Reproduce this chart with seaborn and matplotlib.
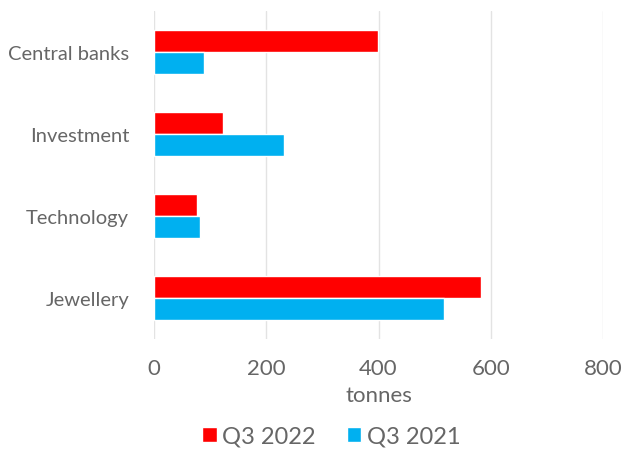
import matplotlib
matplotlib.use("Agg")
import matplotlib.pyplot as plt
import seaborn as sns
import pandas as pd

categories = ["Central banks", "Investment", "Technology", "Jewellery"]
q3_2022 = [399, 123, 77, 582]
q3_2021 = [89, 232, 82, 516]
series_names = ["Q3 2022", "Q3 2021"]
x_ticks = [0, 200, 400, 600, 800]

df = pd.DataFrame({
    "category": categories * 2,
    "value": q3_2022 + q3_2021,
    "series": [series_names[0]] * 4 + [series_names[1]] * 4,
})

sns.set_theme(style="white")
plt.rcParams["font.family"] = ["Lato", "DejaVu Sans"]

fig = plt.figure(figsize=(6.25, 4.52), dpi=100)
ax = fig.add_axes([0.2464, 0.248, 0.7186, 0.725])

sns.barplot(data=df, y="category", x="value", hue="series", orient="h",
            palette={"Q3 2022": "#FF0000", "Q3 2021": "#00B0F0"},
            width=0.53, ax=ax, saturation=1, legend=True)

ax.set_xlim(0, 800)
ax.set_ylim(3.5, -0.5)
ax.set_xticks(x_ticks)
ax.set_xticklabels([str(t) for t in x_ticks])
ax.xaxis.grid(True, color="#e3e3e3", linewidth=1)
ax.set_axisbelow(True)
for s in ax.spines.values():
    s.set_visible(False)
ax.tick_params(axis="x", labelsize=16, colors="#666666", pad=14, length=0)
ax.tick_params(axis="y", labelsize=14.5, colors="#666666", pad=18, length=0)
ax.set_ylabel("")
ax.set_xlabel("tonnes", fontsize=16, color="#666666", labelpad=5)

handles, labels = ax.get_legend_handles_labels()
ax.legend(handles, labels, loc="upper center", bbox_to_anchor=(0.395, -0.2),
          ncol=2, frameon=False, fontsize=17, handlelength=0.6, handleheight=0.6,
          handletextpad=0.25, columnspacing=1.3, labelcolor="#666666")

fig.savefig("out.png", dpi=100, facecolor="white")
